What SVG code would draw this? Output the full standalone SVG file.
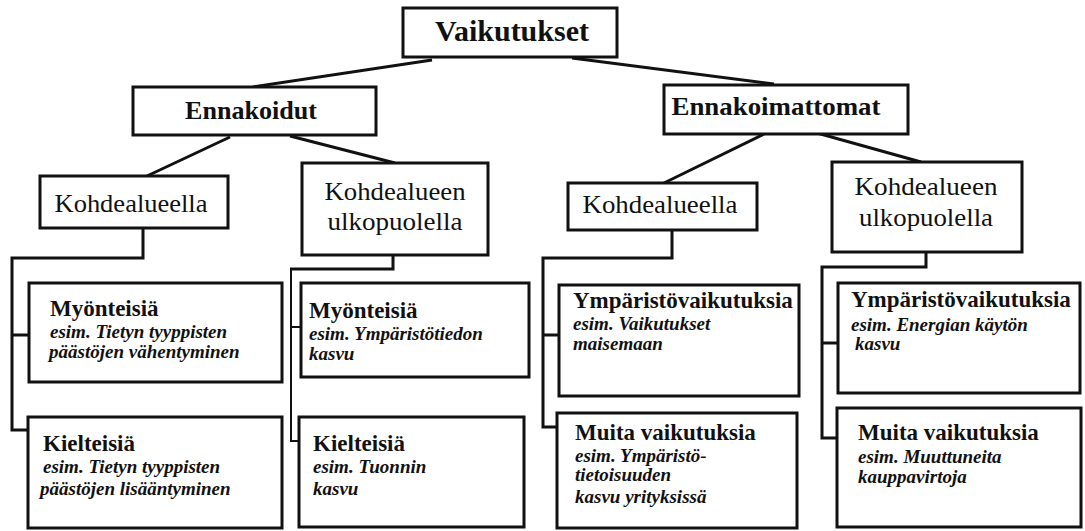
<svg xmlns="http://www.w3.org/2000/svg" width="1085" height="531" viewBox="0 0 1085 531">
<style>
.box{fill:#fff;stroke:#111;stroke-width:3}
.con{fill:none;stroke:#111;stroke-width:3;stroke-linejoin:miter}
.thin{stroke-width:2}
text{font-family:"Liberation Serif","Times New Roman",serif;fill:#111}
.t1{font-size:30px;font-weight:bold}
.t2{font-size:25px;font-weight:bold}
.t3{font-size:26px}
.h{font-size:23px;font-weight:bold}
.e{font-size:19px;font-weight:bold;font-style:italic}
</style>
<rect width="1085" height="531" fill="#fff"/>
<g id="connectors">
<line class="con" x1="432" y1="60" x2="253" y2="87"/>
<line class="con" x1="572" y1="58" x2="774" y2="84"/>
<line class="con" x1="230" y1="137" x2="147" y2="176"/>
<line class="con" x1="290" y1="136" x2="395" y2="163"/>
<line class="con" x1="764" y1="134" x2="664" y2="183"/>
<line class="con" x1="817" y1="133" x2="921" y2="162"/>
<polyline class="con" points="143,228 143,258 12,258 12,430 28,430"/>
<line class="con" x1="12" y1="335" x2="29" y2="335"/>
<polyline class="con" points="393,255 393,269 290,269"/>
<polyline class="con thin" points="291,269 291,441 300,441"/>
<line class="con thin" x1="291" y1="327" x2="301" y2="327"/>
<polyline class="con" points="672,230 672,258 543,258 543,427 557,427"/>
<line class="con" x1="543" y1="335" x2="559" y2="335"/>
<polyline class="con" points="926,252 926,267 822,267 822,438 837,438"/>
<line class="con" x1="822" y1="343" x2="838" y2="343"/>
</g>
<g id="vaikutukset">
<rect class="box" x="403" y="8" width="214" height="49"/>
<text class="t1" x="512" y="41" text-anchor="middle" textLength="154" lengthAdjust="spacingAndGlyphs">Vaikutukset</text>
</g>
<g id="ennakoidut">
<rect class="box" x="133" y="87" width="243" height="48"/>
<text class="t2" x="251" y="119" text-anchor="middle" textLength="132" lengthAdjust="spacingAndGlyphs">Ennakoidut</text>
</g>
<g id="ennakoimattomat">
<rect class="box" x="664" y="85" width="244" height="49"/>
<text class="t2" x="776" y="115" text-anchor="middle" textLength="209" lengthAdjust="spacingAndGlyphs">Ennakoimattomat</text>
</g>
<g id="kohdealueella-1">
<rect class="box" x="40" y="176" width="188" height="52"/>
<text class="t3" x="131" y="212" text-anchor="middle" textLength="153" lengthAdjust="spacingAndGlyphs">Kohdealueella</text>
</g>
<g id="ulkopuolella-1">
<rect class="box" x="302" y="163" width="186" height="92"/>
<text class="t3" x="395" y="200" text-anchor="middle" textLength="141" lengthAdjust="spacingAndGlyphs">Kohdealueen</text>
<text class="t3" x="395" y="230" text-anchor="middle" textLength="135" lengthAdjust="spacingAndGlyphs">ulkopuolella</text>
</g>
<g id="kohdealueella-2">
<rect class="box" x="568" y="183" width="189" height="47"/>
<text class="t3" x="660" y="213" text-anchor="middle" textLength="155" lengthAdjust="spacingAndGlyphs">Kohdealueella</text>
</g>
<g id="ulkopuolella-2">
<rect class="box" x="832" y="162" width="190" height="90"/>
<text class="t3" x="926" y="195" text-anchor="middle" textLength="143" lengthAdjust="spacingAndGlyphs">Kohdealueen</text>
<text class="t3" x="926" y="226" text-anchor="middle" textLength="134" lengthAdjust="spacingAndGlyphs">ulkopuolella</text>
</g>
<g id="myonteisia-1">
<rect class="box" x="29" y="283" width="253" height="99"/>
<text class="h" x="50" y="316">Myönteisiä</text>
<text class="e" x="50" y="338">esim. Tietyn tyyppisten</text>
<text class="e" x="49" y="358">päästöjen vähentyminen</text>
</g>
<g id="kielteisia-1">
<rect class="box" x="28" y="417" width="254" height="111"/>
<text class="h" x="43" y="451">Kielteisiä</text>
<text class="e" x="43" y="473">esim. Tietyn tyyppisten</text>
<text class="e" x="40" y="495">päästöjen lisääntyminen</text>
</g>
<g id="myonteisia-2">
<rect class="box" x="301" y="283" width="228" height="94"/>
<text class="h" x="309" y="318">Myönteisiä</text>
<text class="e" x="309" y="340">esim. Ympäristötiedon</text>
<text class="e" x="309" y="360">kasvu</text>
</g>
<g id="kielteisia-2">
<rect class="box" x="299" y="417" width="225" height="110"/>
<text class="h" x="313" y="451">Kielteisiä</text>
<text class="e" x="313" y="473">esim. Tuonnin</text>
<text class="e" x="313" y="495">kasvu</text>
</g>
<g id="ymparisto-1">
<rect class="box" x="559" y="285" width="240" height="111"/>
<text class="h" x="573" y="308">Ympäristövaikutuksia</text>
<text class="e" x="573" y="330">esim. Vaikutukset</text>
<text class="e" x="573" y="350">maisemaan</text>
</g>
<g id="muita-1">
<rect class="box" x="557" y="413" width="240" height="115"/>
<text class="h" x="575" y="440">Muita vaikutuksia</text>
<text class="e" x="575" y="462">esim. Ympäristö-</text>
<text class="e" x="575" y="481">tietoisuuden</text>
<text class="e" x="575" y="503">kasvu yrityksissä</text>
</g>
<g id="ymparisto-2">
<rect class="box" x="838" y="283" width="242" height="110"/>
<text class="h" x="851" y="307">Ympäristövaikutuksia</text>
<text class="e" x="851" y="331">esim. Energian käytön</text>
<text class="e" x="855" y="350">kasvu</text>
</g>
<g id="muita-2">
<rect class="box" x="837" y="408" width="244" height="119"/>
<text class="h" x="858" y="440">Muita vaikutuksia</text>
<text class="e" x="858" y="463">esim. Muuttuneita</text>
<text class="e" x="858" y="483">kauppavirtoja</text>
</g>
</svg>
